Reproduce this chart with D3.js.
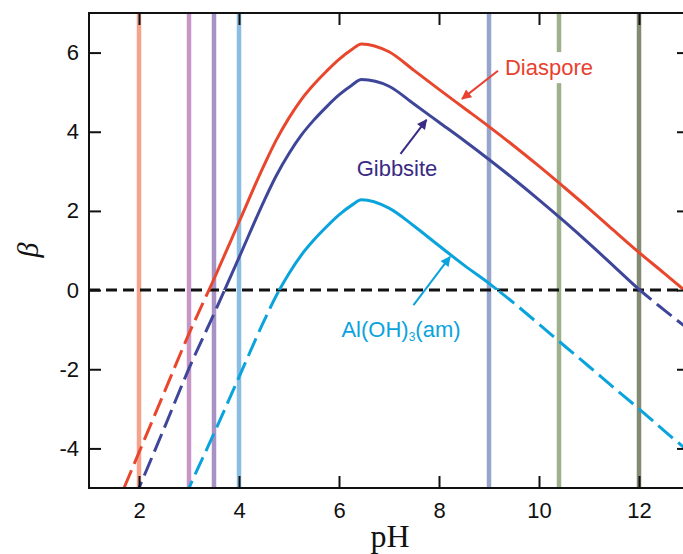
<!DOCTYPE html>
<html>
<head>
<meta charset="utf-8">
<script src="https://cdn.jsdelivr.net/npm/d3@7"></script>
<style>
  body { margin: 0; background: #fff; }
  svg { display: block; }
</style>
</head>
<body>
<svg id="myCanvas" width="683" height="554"></svg>
<script>
/*** saturation index vs pH ***/

let pH = [1.5, 2, 2.5, 3, 3.5, 4, 4.5, 4.75, 5, 5.25, 5.5, 5.75, 6, 6.25, 6.45, 7, 7.5, 8, 8.5, 9, 9.5, 10, 10.5, 11, 11.5, 12, 12.5, 13];
let diaspore = [-5.6, -4.1, -2.6, -1.1, 0.28, 1.72, 3.15, 3.8, 4.35, 4.82, 5.2, 5.53, 5.83, 6.07, 6.22, 6.02, 5.55, 5.07, 4.6, 4.13, 3.64, 3.13, 2.6, 2.06, 1.5, 0.95, 0.43, -0.1];
let gibbsite = [-6.5, -5.0, -3.5, -1.98, -0.6, 0.82, 2.25, 2.9, 3.45, 3.92, 4.3, 4.63, 4.93, 5.17, 5.32, 5.15, 4.7, 4.24, 3.78, 3.3, 2.8, 2.28, 1.74, 1.18, 0.6, 0.02, -0.5, -1.0];
let amorphous = [-9.5, -8.0, -6.5, -5.0, -3.62, -2.2, -0.78, -0.13, 0.42, 0.89, 1.27, 1.6, 1.9, 2.14, 2.28, 2.07, 1.62, 1.12, 0.63, 0.17, -0.33, -0.86, -1.4, -1.93, -2.47, -3.0, -3.55, -4.08];

// vertical marker lines (pH values)
let markerPH = [2, 3, 3.5, 4, 9, 10.4, 12];
let markerColors = ['#f6a38e', '#c596c6', '#a892c5', '#8bbde3', '#97a5cd', '#9fb08c', '#838a73'];

let xTicks = [2, 4, 6, 8, 10, 12];
let yTicks = [-4, -2, 0, 2, 4, 6];

let canvas = d3.select('#myCanvas');

let pLeft = 89, pRight = 689, pTop = 13, pBottom = 488;

let xScale = d3.scaleLinear().domain([1, 13]).range([pLeft, pRight]);
let yScale = d3.scaleLinear().domain([-5, 7]).range([pBottom, pTop]);

let defs = canvas.append('defs');

defs.append('clipPath').attr('id', 'plotClip')
    .append('rect')
    .attr('x', pLeft).attr('y', pTop)
    .attr('width', pRight - pLeft).attr('height', pBottom - pTop);

defs.append('clipPath').attr('id', 'aboveClip')
    .append('rect')
    .attr('x', pLeft).attr('y', pTop)
    .attr('width', pRight - pLeft).attr('height', yScale(0) - pTop);

defs.append('clipPath').attr('id', 'belowClip')
    .append('rect')
    .attr('x', pLeft).attr('y', yScale(0))
    .attr('width', pRight - pLeft).attr('height', pBottom - yScale(0));

let plot = canvas.append('g').attr('clip-path', 'url(#plotClip)');

// vertical lines
plot.selectAll('line.marker')
    .data(markerPH)
    .enter()
    .append('line')
    .attr('class', 'marker')
    .attr('x1', (d) => xScale(d))
    .attr('x2', (d) => xScale(d))
    .attr('y1', pTop)
    .attr('y2', pBottom)
    .attr('stroke', (d, i) => markerColors[i])
    .attr('stroke-width', 4.5);

// zero line
plot.append('line')
    .attr('x1', pLeft).attr('x2', pRight)
    .attr('y1', yScale(0)).attr('y2', yScale(0))
    .attr('stroke', '#111')
    .attr('stroke-width', 3)
    .attr('stroke-dasharray', '11,6');

let series = [
  { name: 'Diaspore', values: diaspore, color: '#e8472d' },
  { name: 'Gibbsite', values: gibbsite, color: '#3e4699' },
  { name: 'Al(OH)3(am)', values: amorphous, color: '#0ba3dc' }
];

let lineGen = d3.line()
    .x((d) => xScale(d[0]))
    .y((d) => yScale(d[1]))
    .curve(d3.curveMonotoneX);

// solid above beta = 0, dashed below
series.forEach((s) => {
  let pts = pH.map((p, i) => [p, s.values[i]]);
  plot.append('g').attr('clip-path', 'url(#aboveClip)')
      .append('path')
      .attr('d', lineGen(pts))
      .attr('fill', 'none')
      .attr('stroke', s.color)
      .attr('stroke-width', 3);
  plot.append('g').attr('clip-path', 'url(#belowClip)')
      .append('path')
      .attr('d', lineGen(pts))
      .attr('fill', 'none')
      .attr('stroke', s.color)
      .attr('stroke-width', 3)
      .attr('stroke-dasharray', '19,7');
});

// annotations: label position and arrow (tail -> head) in data units
let notes = [
  { text: 'Diaspore', color: '#e8412f', at: [10.2, 5.43], tail: [9.18, 5.54], head: [8.46, 4.83] },
  { text: 'Gibbsite', color: '#3a2b83', at: [7.16, 2.88], tail: [7.23, 3.44], head: [7.75, 4.30] },
  { text: 'Al(OH)', sub: '3', rest: '(am)', color: '#0ba3dc', at: [7.24, -1.18], tail: [7.49, -0.38], head: [8.22, 0.84] }
];

notes.forEach((n, i) => {
  defs.append('marker')
      .attr('id', 'arrow' + i)
      .attr('viewBox', '0 0 10 10')
      .attr('refX', 9).attr('refY', 5)
      .attr('markerUnits', 'userSpaceOnUse')
      .attr('markerWidth', 12).attr('markerHeight', 10)
      .attr('orient', 'auto')
      .append('path')
      .attr('d', 'M0,0 L10,5 L0,10 Z')
      .attr('fill', n.color);

  let g = canvas.append('g');
  let bg = g.append('rect').attr('fill', '#fff');
  let t = g.append('text')
      .attr('x', xScale(n.at[0]))
      .attr('y', yScale(n.at[1]))
      .attr('text-anchor', 'middle')
      .attr('font-family', 'Liberation Sans, Arial, sans-serif')
      .attr('font-size', 22)
      .attr('fill', n.color)
      .text(n.text);
  if (n.sub) {
    t.append('tspan').attr('font-size', 12).attr('dy', 4).text(n.sub);
    t.append('tspan').attr('dy', -4).text(n.rest);
  }
  let b = t.node().getBBox();
  bg.attr('x', b.x - 3).attr('y', b.y - 3)
    .attr('width', b.width + 6).attr('height', b.height + 6);

  canvas.append('line')
      .attr('x1', xScale(n.tail[0])).attr('y1', yScale(n.tail[1]))
      .attr('x2', xScale(n.head[0])).attr('y2', yScale(n.head[1]))
      .attr('stroke', n.color)
      .attr('stroke-width', 2)
      .attr('marker-end', 'url(#arrow' + i + ')');
});

// axes, ticks all point inwards
let fontFam = 'Liberation Sans, Arial, sans-serif';

canvas.append('g')
    .attr('transform', 'translate(0,' + pBottom + ')')
    .call(d3.axisBottom(xScale).tickValues(xTicks).tickSize(-12).tickPadding(14).tickFormat((d) => String(d)));

canvas.append('g')
    .attr('transform', 'translate(' + pLeft + ',0)')
    .call(d3.axisLeft(yScale).tickValues(yTicks).tickSize(-12).tickPadding(10).tickFormat((d) => String(d)));

canvas.append('g')
    .attr('transform', 'translate(0,' + pTop + ')')
    .call(d3.axisTop(xScale).tickValues(xTicks).tickSize(-12).tickFormat(''));

canvas.append('g')
    .attr('transform', 'translate(' + pRight + ',0)')
    .call(d3.axisRight(yScale).tickValues(yTicks).tickSize(-12).tickFormat(''));

canvas.selectAll('.domain').remove();
canvas.selectAll('.tick line').attr('stroke', '#111').attr('stroke-width', 2);
canvas.selectAll('.tick text')
    .attr('font-family', fontFam)
    .attr('font-size', 22)
    .attr('fill', '#111');

canvas.append('rect')
    .attr('x', pLeft).attr('y', pTop)
    .attr('width', pRight - pLeft).attr('height', pBottom - pTop)
    .attr('fill', 'none')
    .attr('stroke', '#111')
    .attr('stroke-width', 2);

// axis titles
canvas.append('text')
    .attr('transform', 'translate(38,250) rotate(-90)')
    .attr('text-anchor', 'middle')
    .attr('font-family', 'Liberation Serif, Times New Roman, serif')
    .attr('font-style', 'italic')
    .attr('font-size', 30)
    .attr('fill', '#111')
    .text('β');

canvas.append('text')
    .attr('x', 390)
    .attr('y', 547)
    .attr('text-anchor', 'middle')
    .attr('font-family', 'Liberation Serif, Times New Roman, serif')
    .attr('font-size', 32)
    .attr('fill', '#111')
    .text('pH');
</script>
</body>
</html>
